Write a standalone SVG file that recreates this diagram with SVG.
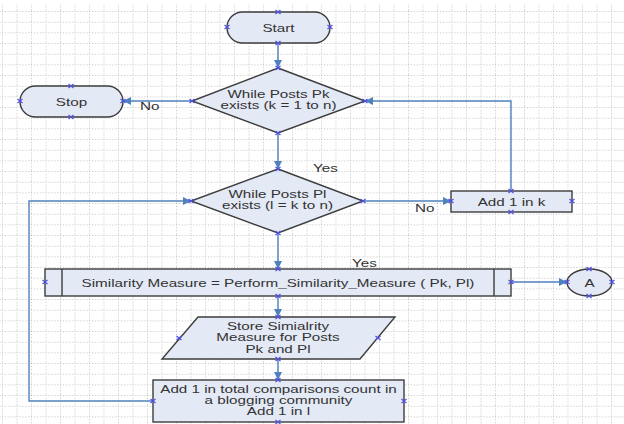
<svg xmlns="http://www.w3.org/2000/svg" width="624" height="424" viewBox="0 0 624 424">
<defs>
<style>
.n{fill:#e3e9f5;stroke:#3c3c3c;stroke-width:1.4}
.c{fill:none;stroke:#4f81bd;stroke-width:1.4}
.t{font-family:"Liberation Sans",Arial,sans-serif;font-size:11.2px;fill:#333;text-anchor:middle}
.m{font-family:"Liberation Sans",Arial,sans-serif;font-size:10px;fill:#333;text-anchor:middle}
.l{font-family:"Liberation Sans",Arial,sans-serif;font-size:11.2px;fill:#333}
.x{stroke:#5050e6;stroke-width:1.2;fill:none}
.g{stroke:#b0b0b0;stroke-width:0.8;stroke-dasharray:1 2}
</style>
<marker id="ah" markerWidth="9" markerHeight="8" refX="8" refY="4" orient="auto" markerUnits="userSpaceOnUse">
<path d="M0,0 L8,4 L0,8 Z" fill="#4f81bd"/>
</marker>
<symbol id="cx" overflow="visible">
<path class="x" d="M-2.5,-2 L2.5,2 M-2.5,2 L2.5,-2"/>
</symbol>
<pattern id="grid" x="2" y="0.4" width="14.5" height="10.667" patternUnits="userSpaceOnUse">
<line class="g" x1="0.5" y1="0" x2="0.5" y2="10.667"/>
<line class="g" x1="0" y1="0.5" x2="14.5" y2="0.5"/>
</pattern>
</defs>
<rect width="624" height="424" fill="#fff"/>
<rect x="0" y="4" width="624" height="420" fill="url(#grid)"/>

<g id="connectors">
<path class="c" d="M278,43 L278,68" marker-end="url(#ah)"/>
<path class="c" d="M192,101 L123,101" marker-end="url(#ah)"/>
<path class="c" d="M278,133 L278,169" marker-end="url(#ah)"/>
<path class="c" d="M363,201 L451,201" marker-end="url(#ah)"/>
<path class="c" d="M511,191 L511,101 L365,101" marker-end="url(#ah)"/>
<path class="c" d="M278,233 L278,269" marker-end="url(#ah)"/>
<path class="c" d="M511,282 L567,282" marker-end="url(#ah)"/>
<path class="c" d="M278,296 L278,317" marker-end="url(#ah)"/>
<path class="c" d="M278,359 L278,380" marker-end="url(#ah)"/>
<path class="c" d="M153,401 L29,401 L29,201 L191,201" marker-end="url(#ah)"/>
<g transform="translate(140,110) scale(1.36,1)"><text class="l">No</text></g>
<g transform="translate(313,172) scale(1.36,1)"><text class="l">Yes</text></g>
<g transform="translate(415,212) scale(1.36,1)"><text class="l">No</text></g>
<g transform="translate(352,267) scale(1.36,1)"><text class="l">Yes</text></g>
</g>

<g id="start">
<rect class="n" x="227" y="12" width="103" height="31" rx="15.5"/>
<g transform="translate(278.5,31.5) scale(1.36,1)"><text class="t">Start</text></g>
</g>

<g id="stop">
<rect class="n" x="20" y="86" width="103" height="31" rx="15.5"/>
<g transform="translate(71.5,105.5) scale(1.36,1)"><text class="t">Stop</text></g>
</g>

<g id="while-pk">
<polygon class="n" points="278,68 365,101 278,133 192,101"/>
<g transform="translate(278.5,97.5) scale(1.52,1)"><text class="m">While Posts Pk<tspan x="0" dy="11.5">exists (k = 1 to n)</tspan></text></g>
</g>

<g id="while-pl">
<polygon class="n" points="278,169 363,201 278,233 191,201"/>
<g transform="translate(277.5,197.5) scale(1.52,1)"><text class="m">While Posts Pl<tspan x="0" dy="11.5">exists (l = k to n)</tspan></text></g>
</g>

<g id="add-k">
<rect class="n" x="451" y="191" width="121" height="21"/>
<g transform="translate(511.5,205.5) scale(1.36,1)"><text class="t">Add 1 in k</text></g>
</g>

<g id="similarity">
<rect class="n" x="45" y="269" width="466" height="27"/>
<line class="n" x1="62" y1="269" x2="62" y2="296"/>
<line class="n" x1="494" y1="269" x2="494" y2="296"/>
<g transform="translate(278,286.5) scale(1.36,1)"><text class="t">Similarity Measure = Perform_Similarity_Measure ( Pk, Pl)</text></g>
</g>

<g id="connector-a">
<ellipse class="n" cx="589.5" cy="282.5" rx="22.5" ry="13.5"/>
<g transform="translate(589.5,286.5) scale(1.36,1)"><text class="t">A</text></g>
</g>

<g id="store">
<polygon class="n" points="198,317 395,317 360,359 162,359"/>
<g transform="translate(278,330) scale(1.52,1)"><text class="m">Store Simialrity<tspan x="0" dy="11.5">Measure for Posts</tspan><tspan x="0" dy="11.5">Pk and Pl</tspan></text></g>
</g>

<g id="add-total">
<rect class="n" x="153" y="380" width="251" height="42"/>
<g transform="translate(278.5,392.5) scale(1.52,1)"><text class="m">Add 1 in total comparisons count in<tspan x="0" dy="11.5">a blogging community</tspan><tspan x="0" dy="11.5">Add 1 in l</tspan></text></g>
</g>

<g id="connection-points">
<use href="#cx" x="278" y="12"/><use href="#cx" x="227" y="27"/><use href="#cx" x="330" y="27"/><use href="#cx" x="278" y="43"/>
<use href="#cx" x="71" y="86"/><use href="#cx" x="20" y="101"/><use href="#cx" x="123" y="101"/><use href="#cx" x="71" y="117"/>
<use href="#cx" x="278" y="68"/><use href="#cx" x="192" y="101"/><use href="#cx" x="365" y="101"/><use href="#cx" x="278" y="133"/>
<use href="#cx" x="278" y="169"/><use href="#cx" x="191" y="201"/><use href="#cx" x="363" y="201"/><use href="#cx" x="278" y="233"/>
<use href="#cx" x="511" y="191"/><use href="#cx" x="451" y="201"/><use href="#cx" x="572" y="201"/><use href="#cx" x="511" y="212"/>
<use href="#cx" x="278" y="269"/><use href="#cx" x="45" y="282"/><use href="#cx" x="511" y="282"/><use href="#cx" x="278" y="296"/>
<use href="#cx" x="589" y="269"/><use href="#cx" x="567" y="282"/><use href="#cx" x="612" y="282"/><use href="#cx" x="589" y="296"/>
<use href="#cx" x="278" y="317"/><use href="#cx" x="179" y="338"/><use href="#cx" x="378" y="338"/><use href="#cx" x="278" y="359"/>
<use href="#cx" x="278" y="380"/><use href="#cx" x="153" y="401"/><use href="#cx" x="404" y="401"/><use href="#cx" x="278" y="422"/>
</g>
</svg>
